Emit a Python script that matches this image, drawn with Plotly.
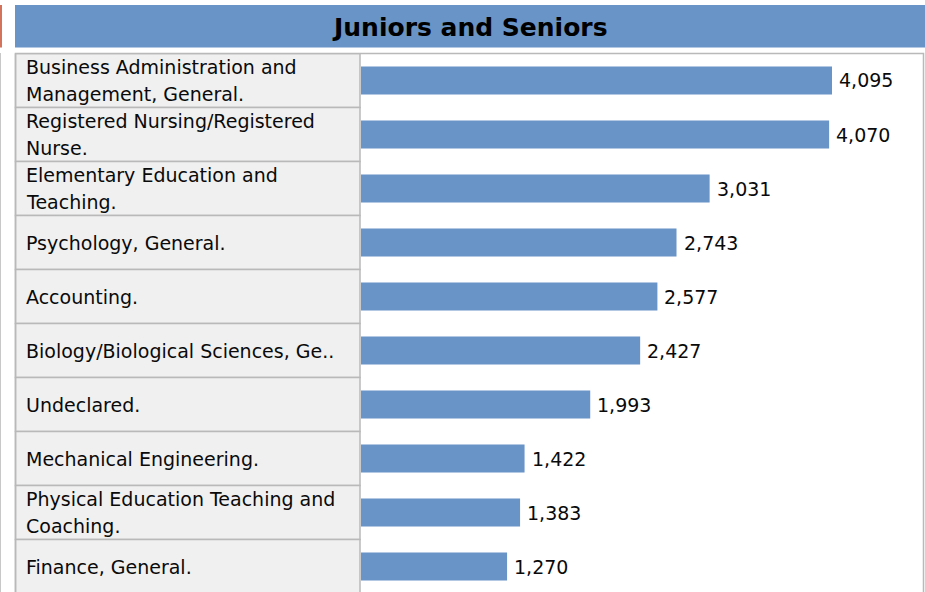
import plotly.graph_objects as go

categories = [
    "Business Administration and<br>Management, General.",
    "Registered Nursing/Registered<br>Nurse.",
    "Elementary Education and<br>Teaching.",
    "Psychology, General.",
    "Accounting.",
    "Biology/Biological Sciences, Ge..",
    "Undeclared.",
    "Mechanical Engineering.",
    "Physical Education Teaching and<br>Coaching.",
    "Finance, General.",
]
values = [4095, 4070, 3031, 2743, 2577, 2427, 1993, 1422, 1383, 1270]
title_text = "Juniors and Seniors"

W, H = 925, 592
BLUE = "#6894C7"
GRID = "#B9B9B9"
FONT = "DejaVu Sans"
LINE_GAP = 26.5

def px_x(p):
    return p / W

def px_y(p):
    return 1 - p / H

y_keys = list(range(len(categories)))

fig = go.Figure()
fig.add_trace(go.Bar(
    x=values, y=y_keys, orientation="h",
    marker=dict(color=BLUE, line=dict(width=0)),
    width=0.52, hoverinfo="skip",
))

shapes = []
# title bar
shapes.append(dict(type="rect", xref="paper", yref="paper", x0=px_x(15), x1=1.0,
                   y0=px_y(47.5), y1=px_y(5), fillcolor=BLUE, line=dict(width=0), layer="below"))
# orange mark at left
shapes.append(dict(type="rect", xref="paper", yref="paper", x0=0, x1=px_x(2),
                   y0=px_y(47.5), y1=px_y(5), fillcolor="#D4735B", line=dict(width=0), layer="below"))
# thin gray line at far left
shapes.append(dict(type="line", xref="paper", yref="paper", x0=px_x(0.5), x1=px_x(0.5),
                   y0=0, y1=px_y(53), line=dict(color="#C8C8C8", width=1)))
# outer table border
shapes.append(dict(type="rect", xref="paper", yref="paper", x0=px_x(15.5), x1=px_x(923.5),
                   y0=px_y(600), y1=px_y(53.5), fillcolor="rgba(0,0,0,0)",
                   line=dict(color=GRID, width=1.5), layer="above"))
# left column cells
for i in y_keys:
    shapes.append(dict(type="rect", xref="paper", yref="y", x0=px_x(15.5), x1=px_x(360),
                       y0=i - 0.5, y1=i + 0.5, fillcolor="#F0F0F0",
                       line=dict(color=GRID, width=1.5), layer="below"))

annotations = []
annotations.append(dict(text="<b>" + title_text + "</b>", xref="paper", yref="paper",
                        x=px_x(470), y=px_y(27), xanchor="center", yanchor="middle",
                        showarrow=False, font=dict(family=FONT, size=25, color="#000000")))
for i, (c, v) in enumerate(zip(categories, values)):
    lines = c.split("<br>")
    n = len(lines)
    for k, line in enumerate(lines):
        shift = ((n - 1) / 2 - k) * LINE_GAP
        annotations.append(dict(text=line, xref="paper", yref="y", x=px_x(24), y=i,
                                xanchor="left", yanchor="middle", align="left", showarrow=False,
                                yshift=shift,
                                font=dict(family=FONT, size=19, color="#0A0A0A")))
    annotations.append(dict(text=f"{v:,}", xref="x", yref="y", x=v, y=i,
                            xanchor="left", yanchor="middle", showarrow=False, xshift=5,
                            font=dict(family=FONT, size=19, color="#0A0A0A")))

px_per_unit = 471 / 4095
x0_px, x1_px = 361, 923
xmax = (x1_px - x0_px) / px_per_unit
rows_px = 54
top_px = 53.5
span = (H - top_px) / rows_px

fig.update_layout(
    width=W, height=H,
    margin=dict(l=0, r=0, t=0, b=0),
    paper_bgcolor="white", plot_bgcolor="rgba(0,0,0,0)",
    showlegend=False,
    bargap=0.48,
    xaxis=dict(domain=[px_x(x0_px), px_x(x1_px)], range=[0, xmax], visible=False, fixedrange=True),
    yaxis=dict(domain=[0, px_y(top_px)], range=[-0.5 + span, -0.5], visible=False, fixedrange=True),
    shapes=shapes,
    annotations=annotations,
)

fig.write_html("out.html", config={"displayModeBar": False})
